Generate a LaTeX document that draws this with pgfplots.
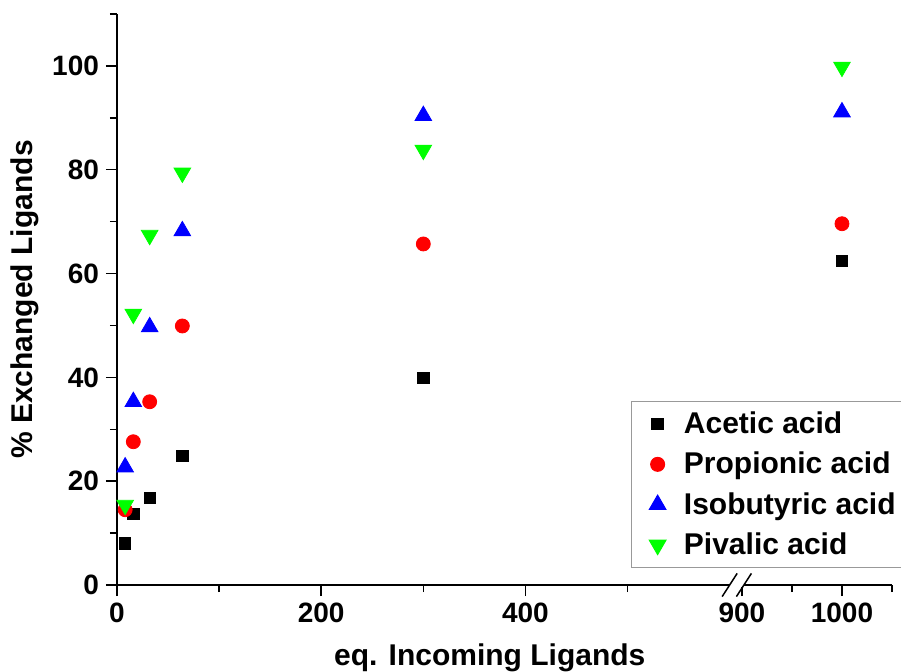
\documentclass[border=0pt]{standalone}
\usepackage{fontspec}
\setmainfont{Liberation Sans}
\usepackage{pgfplots}
\pgfplotsset{compat=1.18}
\begin{document}
\begin{tikzpicture}[font=\fontsize{14}{17}\selectfont\bfseries]
\begin{axis}[
  scale only axis, width=387.5pt, height=285.5pt,
  axis x line*=bottom, axis y line*=left,
  x coord trafo/.code={\pgfmathparse{#1>700 ? (#1-900)*0.98+612 : #1}},
  xmin=0, xmax=1050, ymin=0, ymax=110,
  xtick={0,200,400,900,1000}, xticklabels={0,200,400,900,1000},
  minor xtick={100,300,500,950,1050},
  ytick={0,20,40,60,80,100}, minor ytick={10,30,50,70,90,110},
  tick align=outside, major tick length=5.5pt, minor tick length=3.5pt,
  every tick/.style={black, line width=0.75pt},
  axis line style={black, line width=0.75pt, -},
  /pgf/number format/assume math mode=true,
  ticklabel style={font=\fontsize{14}{17}\selectfont\bfseries},
  label style={font=\fontsize{15}{18}\selectfont\bfseries},
  xlabel={eq. Incoming Ligands},
  ylabel={\% Exchanged Ligands},
  xlabel style={at={(axis description cs:0.481,0)}, anchor=north, yshift=-26pt},
  ylabel style={at={(axis description cs:-0.1187,0.5)}, anchor=center},
  legend style={at={(rel axis cs:0.663,0.322)}, anchor=north west, draw=gray!80, line width=0.5pt,
    font=\fontsize{15}{18}\selectfont\bfseries, row sep=3.8pt, column sep=7pt, inner xsep=9pt, inner ysep=3pt},
  legend cell align=left,
  clip=false,
]
\addplot[only marks, mark=square*, mark size=2.85pt, black] coordinates {
  (8,8) (16,13.7) (32,16.8) (64,24.9) (300,39.9) (1000,62.4)};
\addlegendentry{Acetic acid}
\addplot[only marks, mark=*, mark size=3.5pt, red] coordinates {
  (8,14.5) (16,27.6) (32,35.3) (64,49.9) (300,65.7) (1000,69.6)};
\addlegendentry{Propionic acid}
\addplot[only marks, mark=triangle*, mark size=4.8pt, blue] coordinates {
  (8,22.7) (16,35.3) (32,49.7) (64,68.2) (300,90.4) (1000,91.1)};
\addlegendentry{Isobutyric acid\hspace*{12pt}}
\addplot[only marks, mark=triangle*, mark size=4.8pt, mark options={rotate=180}, color={rgb,255:red,0;green,255;blue,0}] coordinates {
  (8,15.4) (16,52.2) (32,67.4) (64,79.4) (300,83.8) (1000,99.8)};
\addlegendentry{Pivalic acid}
\coordinate (bl) at (axis cs:600,0);
\coordinate (br) at (axis cs:902,0);
\coordinate (sw) at (rel axis cs:0,0);
\coordinate (ne) at (rel axis cs:1,1);
\end{axis}
\fill[white] ([shift={(0pt,-1pt)}]bl) rectangle ([shift={(0pt,1pt)}]br);
\draw[line width=0.75pt] ([shift={(-3.75pt,-5.8pt)}]bl) -- ([shift={(3.75pt,5.8pt)}]bl);
\draw[line width=0.75pt] ([shift={(-3.75pt,-5.8pt)}]br) -- ([shift={(3.75pt,5.8pt)}]br);
\pgfresetboundingbox
\path[use as bounding box] ([shift={(-58.5pt,-43pt)}]sw) rectangle ([shift={(4.5pt,7pt)}]ne);
\end{tikzpicture}
\end{document}
